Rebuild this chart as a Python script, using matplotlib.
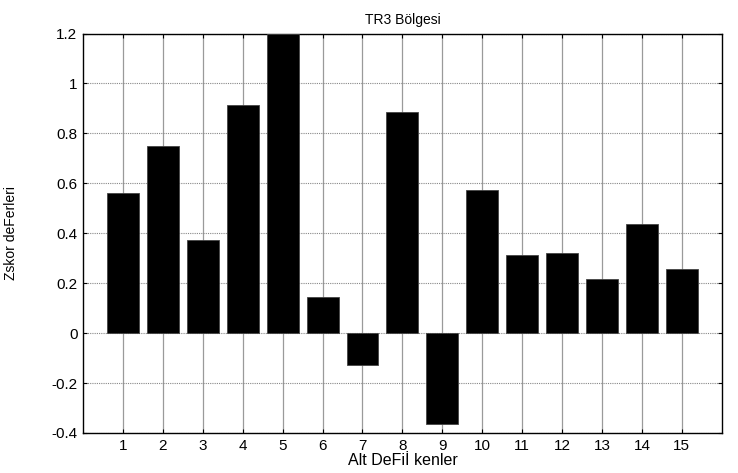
import numpy as np
import matplotlib.pyplot as plt

plt.rcParams['font.family'] = ['Liberation Sans', 'DejaVu Sans']

categories = list(range(1, 16))
zscores = [0.56, 0.75, 0.374, 0.914, 1.2, 0.144, -0.129, 0.885,
           -0.365, 0.573, 0.311, 0.321, 0.216, 0.439, 0.258]
yticks = [-0.4, -0.2, 0, 0.2, 0.4, 0.6, 0.8, 1, 1.2]
ytick_labels = ['-0.4', '-0.2', '0', '0.2', '0.4', '0.6', '0.8', '1', '1.2']

fig = plt.figure(figsize=(7.38, 4.73), dpi=100)
ax = fig.add_axes([0.1125, 0.0846, 0.8655, 0.8445])

ax.bar(categories, zscores, width=0.8, color='black', edgecolor='#444444',
       linewidth=0.6, zorder=3)

ax.set_xlim(0, 16)
ax.set_ylim(-0.4, 1.2)
ax.set_xticks(categories)
ax.set_yticks(yticks)
ax.set_yticklabels(ytick_labels)

# matlab-ish grid: solid-looking verticals, dotted horizontals
ax.set_axisbelow(True)
ax.xaxis.grid(True, color='#9a9a9a', linestyle='-', linewidth=0.9)
ax.yaxis.grid(True, color='#888888', linestyle=(0, (1, 1)), linewidth=0.8)

ax.tick_params(direction='in', top=True, right=True, length=3,
               width=0.8, labelsize=11, pad=4)
for sp in ax.spines.values():
    sp.set_linewidth(1.0)

ax.set_title('TR3 Bölgesi', fontsize=10, pad=7)
ax.set_xlabel('Alt DeFiİ kenler', fontsize=11.5, labelpad=0)
ax.set_ylabel('Zskor deFerleri', fontsize=10, labelpad=24)

fig.savefig('out.png', dpi=100)
